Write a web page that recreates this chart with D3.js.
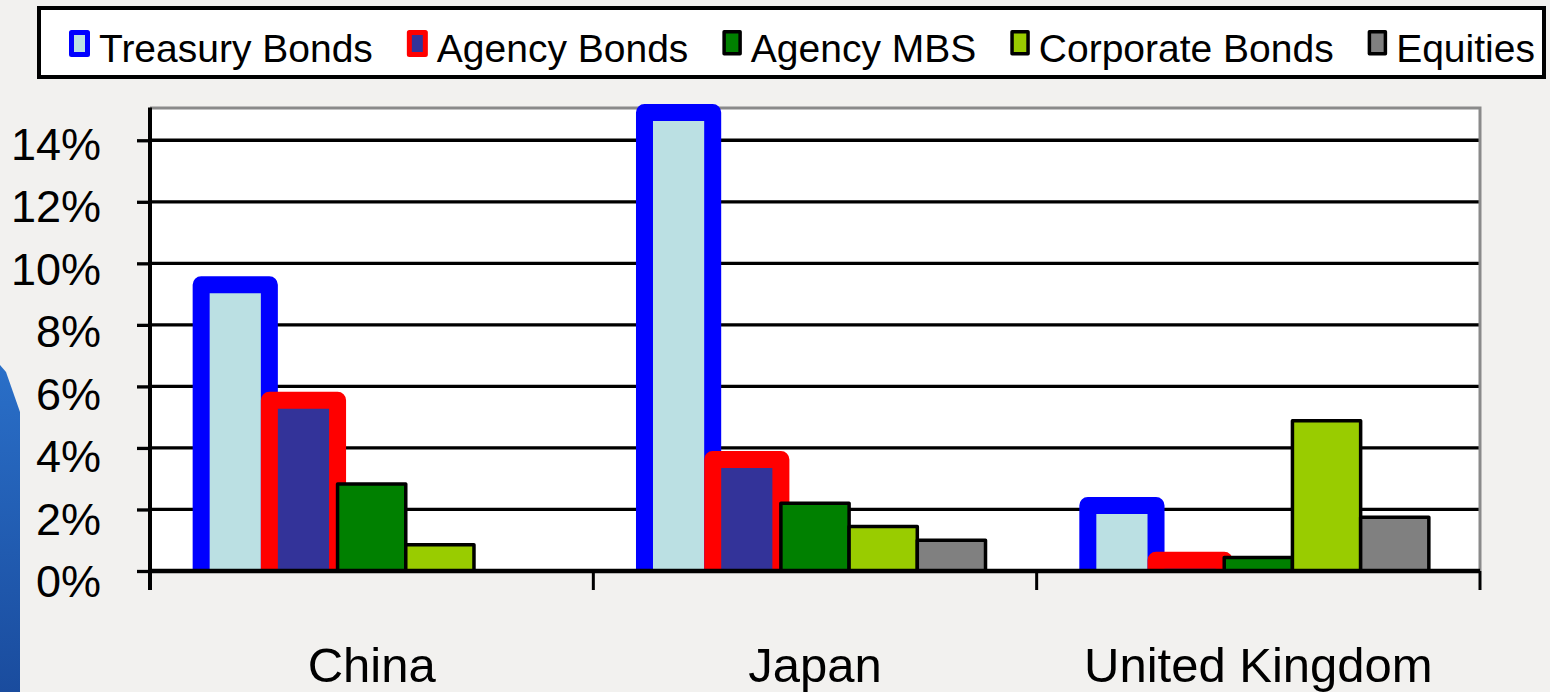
<!DOCTYPE html>
<html>
<head>
<meta charset="utf-8">
<script src="https://cdn.jsdelivr.net/npm/d3@7"></script>
<style>
  html, body { margin: 0; padding: 0; background: #f2f1ef; }
  svg { display: block; }
  text { font-family: "Liberation Sans", Arial, sans-serif; fill: #000; }
</style>
</head>
<body>
<svg id="chart" width="1550" height="692"></svg>
<script>
// ---- data ----
const categories = ["China", "Japan", "United Kingdom"];
const seriesNames = ["Treasury Bonds", "Agency Bonds", "Agency MBS", "Corporate Bonds", "Equities"];
const treasuryBonds  = [9.3, 14.9, 2.13];
const agencyBonds    = [5.55, 3.62, 0.35];
const agencyMBS      = [2.83, 2.2, 0.44];
const corporateBonds = [0.85, 1.45, 4.88];
const equities       = [0, 1.0, 1.75];
const yTicks = [0, 2, 4, 6, 8, 10, 12, 14];

const seriesValues = [treasuryBonds, agencyBonds, agencyMBS, corporateBonds, equities];
const seriesStyle = [
  { fill: "#bbe0e3", stroke: "#0000ff", sw: 17, lsw: 5 },
  { fill: "#333399", stroke: "#ff0000", sw: 17, lsw: 5 },
  { fill: "#008000", stroke: "#000000", sw: 3.5, lsw: 3.5 },
  { fill: "#99cc00", stroke: "#000000", sw: 3.5, lsw: 3.5 },
  { fill: "#808080", stroke: "#000000", sw: 3.5, lsw: 3.5 }
];

const svg = d3.select("#chart");
const L = 150, R = 1480, B = 571;

// background accent on left
const grad = svg.append("defs").append("linearGradient")
  .attr("id", "blueGrad").attr("x1", 0).attr("y1", 0).attr("x2", 0).attr("y2", 1);
grad.append("stop").attr("offset", "0%").attr("stop-color", "#2a6fc8");
grad.append("stop").attr("offset", "100%").attr("stop-color", "#1a4c9e");
svg.append("path")
  .attr("d", "M0,365 L6,372 L20,412 L20,692 L0,692 Z")
  .attr("fill", "url(#blueGrad)");

const y = d3.scaleLinear().domain([0, 15]).range([B, 109.5]);
const x0 = d3.scaleBand().domain(categories).range([L, R]).padding(0);
const x1 = d3.scaleBand().domain(seriesNames).range([0, x0.bandwidth()])
  .paddingInner(0).paddingOuter(0.75);

// plot area
svg.append("rect").attr("x", L).attr("y", y(15) - 1.5)
  .attr("width", R - L).attr("height", B - y(15) + 1.5).attr("fill", "#ffffff");

// gridlines
svg.append("g").selectAll("line").data(yTicks.filter(v => v > 0)).join("line")
  .attr("x1", L).attr("x2", R).attr("y1", d => y(d)).attr("y2", d => y(d))
  .attr("stroke", "#000").attr("stroke-width", 3.3);

// top / right border (gray)
svg.append("path")
  .attr("d", `M${L},${y(15) - 1.5} H${R} V${B}`)
  .attr("fill", "none").attr("stroke", "#8a8a8a").attr("stroke-width", 3);

// bars
const clip = svg.append("defs").append("clipPath").attr("id", "plotClip");
clip.append("rect").attr("x", 0).attr("y", 0).attr("width", 1550).attr("height", B);

const barsG = svg.append("g").attr("clip-path", "url(#plotClip)");
seriesNames.forEach((s, si) => {
  const st = seriesStyle[si];
  barsG.append("g").selectAll("rect")
    .data(categories.map((c, ci) => ({ c, v: seriesValues[si][ci] })).filter(d => d.v > 0))
    .join("rect")
    .attr("x", d => x0(d.c) + x1(s))
    .attr("y", d => y(d.v))
    .attr("width", x1.bandwidth())
    .attr("height", d => B - y(d.v) + 10)
    .attr("fill", st.fill)
    .attr("stroke", st.stroke)
    .attr("stroke-width", st.sw)
    .attr("stroke-linejoin", "round");
});

// y axis
const yAxis = d3.axisLeft(y).tickValues(yTicks).tickSize(13).tickFormat("");
const gy = svg.append("g").attr("transform", `translate(${L},0)`).call(yAxis);
gy.select(".domain").remove();
gy.selectAll(".tick line").attr("stroke", "#000").attr("stroke-width", 3.3);

// y labels (slightly wider pitch than gridlines, as in the reference)
svg.append("g").selectAll("text").data(yTicks).join("text")
  .attr("x", 101)
  .attr("y", d => y(d) + 19.3 + (14 - d) * 0.51)
  .attr("text-anchor", "end")
  .attr("font-size", 45)
  .text(d => d + "%");

// left axis line
svg.append("line").attr("x1", L).attr("x2", L).attr("y1", y(15) - 2).attr("y2", 590)
  .attr("stroke", "#000").attr("stroke-width", 4);

// x axis
const boundaries = categories.map(c => x0(c)).concat([R]);
svg.append("line").attr("x1", L - 2).attr("x2", R).attr("y1", B).attr("y2", B)
  .attr("stroke", "#000").attr("stroke-width", 4.5);
svg.append("g").selectAll("line").data(boundaries.slice(1)).join("line")
  .attr("x1", d => d).attr("x2", d => d).attr("y1", B).attr("y2", 590)
  .attr("stroke", "#000").attr("stroke-width", 3);

svg.append("g").selectAll("text").data(categories).join("text")
  .attr("x", d => x0(d) + x0.bandwidth() / 2)
  .attr("y", 682)
  .attr("text-anchor", "middle")
  .attr("font-size", 49)
  .text(d => d);

// legend
svg.append("rect").attr("x", 39).attr("y", 8).attr("width", 1505).attr("height", 69)
  .attr("fill", "#fff").attr("stroke", "#000").attr("stroke-width", 4);

const lg = svg.append("g");
let cx = 69;
seriesNames.forEach((s, si) => {
  const st = seriesStyle[si];
  const w = 16, h = 22;
  lg.append("rect")
    .attr("x", cx + st.lsw / 2).attr("y", 30 + st.lsw / 2)
    .attr("width", w).attr("height", h)
    .attr("fill", st.fill).attr("stroke", st.stroke).attr("stroke-width", st.lsw)
    .attr("stroke-linejoin", "round");
  const tx = cx + w + st.lsw + 9;
  const t = lg.append("text").attr("x", tx).attr("y", 61.5)
    .attr("font-size", 39).text(s);
  const len = t.node().getComputedTextLength();
  cx = tx + len + 34;
});
</script>
</body>
</html>
